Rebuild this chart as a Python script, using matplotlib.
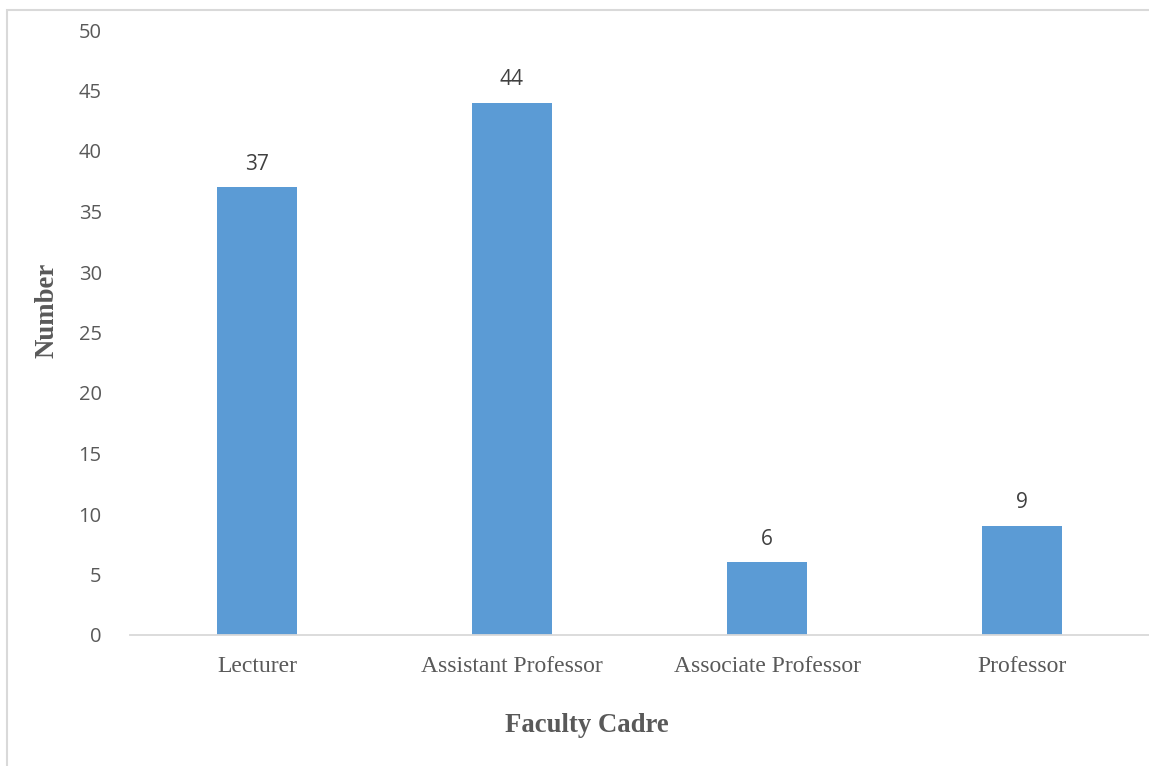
import matplotlib.pyplot as plt
from matplotlib.patches import Rectangle

# Faculty cadre counts
cadres = ["Lecturer", "Assistant Professor", "Associate Professor", "Professor"]
counts = [37, 44, 6, 9]
y_ticks = [0, 5, 10, 15, 20, 25, 30, 35, 40, 45, 50]

W, H = 1149, 766
fig = plt.figure(figsize=(W / 100, H / 100), dpi=100)
ax = fig.add_axes([129.5 / W, 131 / H, 1020 / W, 605 / H])

x = range(len(cadres))
bars = ax.bar(x, counts, width=0.314, color="#5b9bd5", zorder=2)

for b, v in zip(bars, counts):
    ax.text(b.get_x() + b.get_width() / 2, v + 1.05, str(v), ha="center", va="bottom",
            fontsize=15, color="#404040", family="Open Sans")

ax.set_xlim(-0.5, len(cadres) - 0.5)
ax.set_ylim(0, 50)
ax.set_yticks(y_ticks)
ax.set_xticks(list(x))
ax.set_xticklabels(cadres, family="Liberation Serif", fontsize=17, color="#595959")
for lbl in ax.get_yticklabels():
    lbl.set_family("Open Sans")
    lbl.set_fontsize(14.5)
    lbl.set_color("#595959")
ax.tick_params(axis="both", length=0)
ax.tick_params(axis="y", pad=20)
ax.tick_params(axis="x", pad=15)

for s in ["top", "right", "left"]:
    ax.spines[s].set_visible(False)
ax.spines["bottom"].set_color("#d9d9d9")
ax.spines["bottom"].set_linewidth(1.3)

# axis titles placed where the reference has them
fig.text(587 / W, 1 - 725 / H, "Faculty Cadre", family="Liberation Serif", fontweight="bold",
         fontsize=19.3, color="#595959", ha="center", va="center")
fig.text(47 / W, 1 - 310 / H, "Number", family="Liberation Serif", fontweight="bold",
         fontsize=19.3, color="#595959", ha="center", va="center", rotation=90)

# chart area border (left and top edges visible)
fig.patches.append(Rectangle((7 / W, -0.1), 1.2, (H - 10) / H + 0.1,
                             transform=fig.transFigure, fill=False,
                             edgecolor="#d9d9d9", linewidth=1.5))

fig.savefig("out.png", dpi=100)
